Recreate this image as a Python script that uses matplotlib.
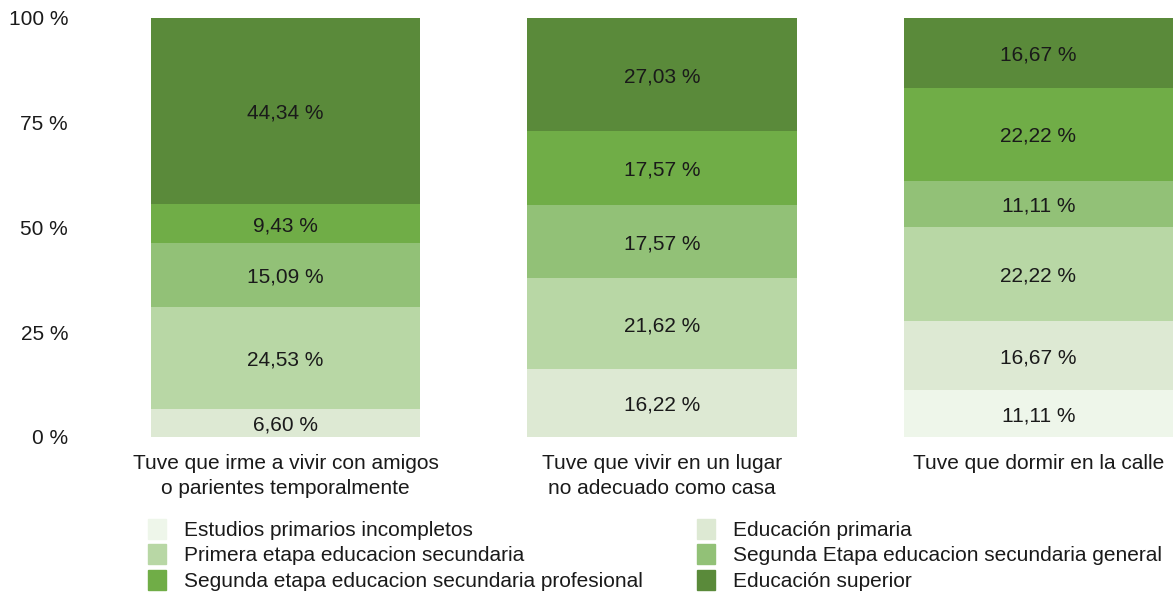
import numpy as np
from matplotlib import pyplot as plt
from matplotlib.patches import Patch

plt.rcParams['font.family'] = ['Liberation Sans', 'DejaVu Sans']

situaciones = ["Tuve que irme a vivir con amigos\no parientes temporalmente",
               "Tuve que vivir en un lugar\nno adecuado como casa",
               "Tuve que dormir en la calle"]

niveles = ["Estudios primarios incompletos",
           "Educación primaria",
           "Primera etapa educacion secundaria",
           "Segunda Etapa educacion secundaria general",
           "Segunda etapa educacion secundaria profesional",
           "Educación superior"]

# porcentajes por nivel (de abajo hacia arriba), una columna por situacion
incompletos = [0.0, 0.0, 11.11]
primaria = [6.60, 16.22, 16.67]
primera_etapa = [24.53, 21.62, 22.22]
segunda_general = [15.09, 17.57, 11.11]
segunda_profesional = [9.43, 17.57, 22.22]
superior = [44.34, 27.03, 16.67]

colores = ["#eef6ea", "#dde9d3", "#b8d7a5", "#92c177", "#70ad47", "#5a8a3a"]
yticks = [0, 25, 50, 75, 100]

series = [incompletos, primaria, primera_etapa, segunda_general,
          segunda_profesional, superior]

txt = "#1a1a1a"
fs = 15

fig = plt.figure(figsize=(11.73, 5.96), dpi=100)
ax = fig.add_axes([75/1173, 1-437/596, 1-75/1173, (437-18)/596])

x = np.arange(len(situaciones))
width = 0.716
bottom = np.zeros(len(situaciones))
for vals, col, name in zip(series, colores, niveles):
    vals = np.array(vals)
    ax.bar(x, vals, width, bottom=bottom, color=col, label=name, linewidth=0)
    for xi, b, v in zip(x, bottom, vals):
        if v > 0:
            ax.text(xi, b + v/2 - 0.5, ("%.2f %%" % v).replace(".", ","),
                    ha="center", va="center", fontsize=fs, color=txt)
    bottom += vals

ax.set_xlim(-0.358 - (151-75)/377, 2 + 0.358)
ax.set_ylim(0, 100)
ax.set_yticks(yticks)
ax.set_yticklabels(["%d %%" % t for t in yticks], fontsize=fs, color=txt,
                   va="center_baseline")
ax.set_xticks(x)
ax.set_xticklabels(situaciones, fontsize=fs, color=txt, linespacing=1.4)
ax.tick_params(length=0)
ax.tick_params(axis="x", pad=12)
ax.tick_params(axis="y", pad=5)
for s in ax.spines.values():
    s.set_visible(False)

# leyenda en dos columnas (orden por filas)
handles = [Patch(color=c) for c in colores]
for k, xpos in enumerate([148/1173, 697/1173]):
    idx = [k, k+2, k+4]
    fig.legend([handles[i] for i in idx], [niveles[i] for i in idx],
               loc="upper left", bbox_to_anchor=(xpos, 1-519/596),
               frameon=False, fontsize=fs, borderpad=0, borderaxespad=0,
               handlelength=0.85, handleheight=1.1, handletextpad=0.9,
               labelspacing=0.2, labelcolor=txt)

plt.savefig("out.png", dpi=100)
